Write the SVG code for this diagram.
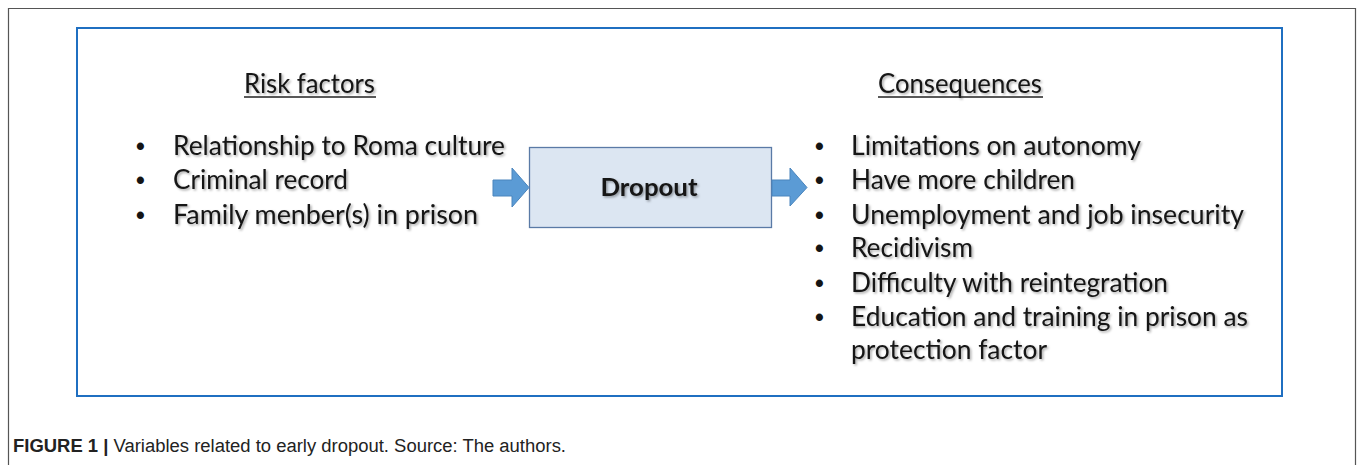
<svg xmlns="http://www.w3.org/2000/svg" width="1357" height="465" viewBox="0 0 1357 465">
<defs>
<filter id="sh" x="-5%" y="-20%" width="110%" height="140%">
<feDropShadow dx="1.5" dy="1.5" stdDeviation="1" flood-color="#000" flood-opacity="0.35"/>
</filter>
<style>
.t{font-family:Lato,"Open Sans","Liberation Sans",sans-serif;font-size:26px;fill:#141414;filter:url(#sh)}
.b{font-family:"Liberation Sans",Arial,sans-serif;font-size:25px;font-weight:bold;fill:#141414}
.cap{font-family:"Liberation Sans",Arial,sans-serif;font-size:18px;fill:#222}
.arrow{fill:#5b9bd5;stroke:#4a85bd;stroke-width:1}
</style>
</defs>
<rect x="0" y="0" width="1357" height="465" fill="#fff"/>
<path d="M8.5 470 V8.5 H1355.5 V470" fill="none" stroke="#555" stroke-width="1.2"/>
<rect id="frame" x="77" y="28" width="1205" height="368" fill="none" stroke="#1f6fc1" stroke-width="2"/>

<g id="risk">
<text class="t" x="244" y="93" textLength="131" lengthAdjust="spacingAndGlyphs">Risk factors</text>
<line x1="244" y1="97" x2="376" y2="97" stroke="#222" stroke-width="1.5"/>
<text class="b" x="136" y="155">•</text>
<text class="b" x="136" y="189">•</text>
<text class="b" x="136" y="224">•</text>
<text class="t" x="173" y="155" textLength="332" lengthAdjust="spacingAndGlyphs">Relationship to Roma culture</text>
<text class="t" x="173" y="189" textLength="175" lengthAdjust="spacingAndGlyphs">Criminal record</text>
<text class="t" x="173" y="224" textLength="305" lengthAdjust="spacingAndGlyphs">Family menber(s) in prison</text>
</g>

<g id="dropout">
<rect x="529.5" y="147.5" width="242" height="80" fill="#dce6f2" stroke="#5a7aa6" stroke-width="1.3"/>
<text x="649" y="196" text-anchor="middle" textLength="97" lengthAdjust="spacingAndGlyphs" style="font-family:Lato,'Open Sans',sans-serif;font-size:25px;font-weight:bold;fill:#141414;filter:url(#sh)">Dropout</text>
</g>

<g id="consequences">
<text class="t" x="878" y="93" textLength="164" lengthAdjust="spacingAndGlyphs">Consequences</text>
<line x1="878" y1="97" x2="1043" y2="97" stroke="#222" stroke-width="1.5"/>
<text class="b" x="815" y="155">•</text>
<text class="b" x="815" y="189">•</text>
<text class="b" x="815" y="224">•</text>
<text class="b" x="815" y="257">•</text>
<text class="b" x="815" y="292">•</text>
<text class="b" x="815" y="326">•</text>
<text class="t" x="851" y="155" textLength="290" lengthAdjust="spacingAndGlyphs">Limitations on autonomy</text>
<text class="t" x="851" y="189" textLength="224" lengthAdjust="spacingAndGlyphs">Have more children</text>
<text class="t" x="851" y="224" textLength="393" lengthAdjust="spacingAndGlyphs">Unemployment and job insecurity</text>
<text class="t" x="851" y="257" textLength="122" lengthAdjust="spacingAndGlyphs">Recidivism</text>
<text class="t" x="851" y="292" textLength="317" lengthAdjust="spacingAndGlyphs">Difficulty with reintegration</text>
<text class="t" x="851" y="326" textLength="397" lengthAdjust="spacingAndGlyphs">Education and training in prison as</text>
<text class="t" x="851" y="359" textLength="196" lengthAdjust="spacingAndGlyphs">protection factor</text>
</g>

<g id="connectors">
<path class="arrow" d="M493 180 H512 V168 L529 187.5 L512 207 V196 H493 Z"/>
<path class="arrow" d="M772 180 H790 V168 L807 187.5 L790 206 V196 H772 Z"/>
</g>

<g id="caption">
<text class="cap" x="13" y="452" textLength="553" lengthAdjust="spacingAndGlyphs"><tspan font-weight="bold">FIGURE 1 |</tspan> Variables related to early dropout. Source: The authors.</text>
</g>
</svg>
